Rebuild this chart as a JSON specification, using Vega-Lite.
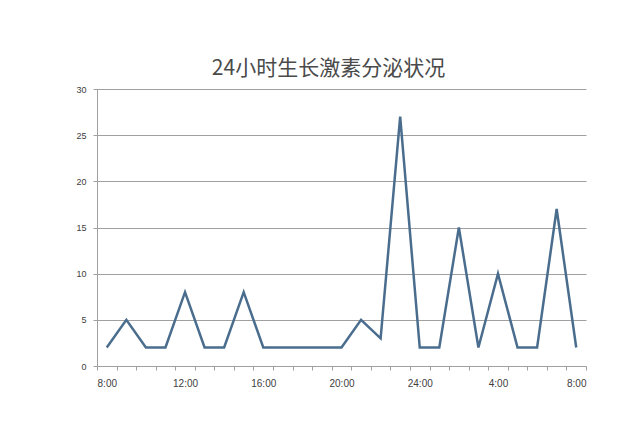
{
  "$schema": "https://vega.github.io/schema/vega-lite/v6.json",
  "autosize": {"type": "none"},
  "padding": {"left": 97, "top": 89, "right": 54, "bottom": 55},
  "width": 489,
  "height": 277,
  "background": "white",
  "title": {
    "text": "24小时生长激素分泌状况",
    "font": "Noto Sans CJK SC",
    "fontSize": 21,
    "fontWeight": "normal",
    "color": "#4a4a4a",
    "anchor": "middle",
    "dx": -13,
    "offset": 6
  },
  "data": {
    "values": [
      {"hour": 8, "level": 2},
      {"hour": 9, "level": 5},
      {"hour": 10, "level": 2},
      {"hour": 11, "level": 2},
      {"hour": 12, "level": 8},
      {"hour": 13, "level": 2},
      {"hour": 14, "level": 2},
      {"hour": 15, "level": 8},
      {"hour": 16, "level": 2},
      {"hour": 17, "level": 2},
      {"hour": 18, "level": 2},
      {"hour": 19, "level": 2},
      {"hour": 20, "level": 2},
      {"hour": 21, "level": 5},
      {"hour": 22, "level": 3},
      {"hour": 23, "level": 27},
      {"hour": 24, "level": 2},
      {"hour": 25, "level": 2},
      {"hour": 26, "level": 15},
      {"hour": 27, "level": 2},
      {"hour": 28, "level": 10},
      {"hour": 29, "level": 2},
      {"hour": 30, "level": 2},
      {"hour": 31, "level": 17},
      {"hour": 32, "level": 2}
    ]
  },
  "mark": {"type": "line", "color": "#4a6d8e", "strokeWidth": 2.5},
  "encoding": {
    "x": {
      "field": "hour",
      "type": "ordinal",
      "scale": {"paddingInner": 0, "paddingOuter": 0},
      "axis": {
        "title": null,
        "labelAngle": 0,
        "tickBand": "extent",
        "labelExpr": "(datum.value - 8) % 4 == 0 ? (datum.value > 24 ? (datum.value - 24) : datum.value) + ':00' : ''",
        "labelFont": "Liberation Sans",
        "labelFontSize": 10,
        "labelColor": "#404040",
        "labelPadding": 8,
        "domainColor": "#a0a0a0",
        "tickColor": "#a0a0a0",
        "tickSize": 4,
        "grid": false
      }
    },
    "y": {
      "field": "level",
      "type": "quantitative",
      "scale": {"domain": [0, 30]},
      "axis": {
        "title": null,
        "values": [0, 5, 10, 15, 20, 25, 30],
        "labelFont": "Liberation Sans",
        "labelFontSize": 9,
        "labelColor": "#404040",
        "labelPadding": 7,
        "domainColor": "#a0a0a0",
        "tickColor": "#a0a0a0",
        "tickSize": 4,
        "gridColor": "#a0a0a0",
        "gridWidth": 1
      }
    }
  },
  "config": {
    "view": {"stroke": null}
  }
}
